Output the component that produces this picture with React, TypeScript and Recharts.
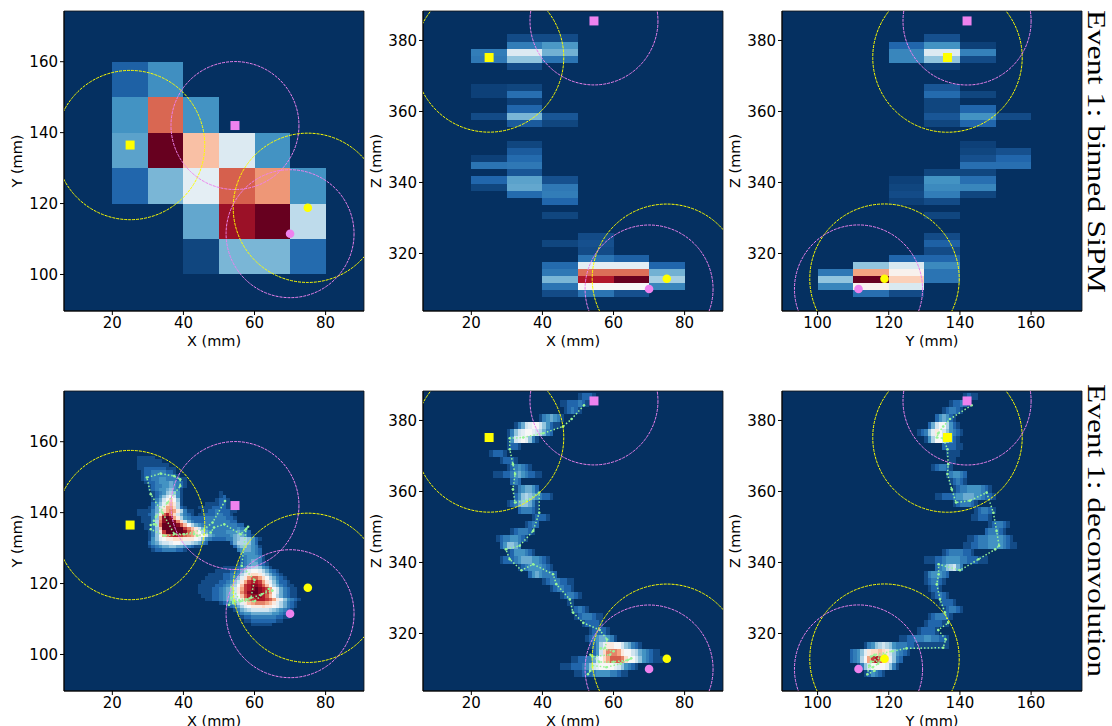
import React from 'react';
import { ScatterChart, Scatter, XAxis, YAxis, ZAxis, ReferenceArea } from 'recharts';

type GridRow = [number, number, string];
type BinRow = [number, number[]];

const xTicks = [20, 40, 60, 80];
const yTicks = [100, 120, 140, 160];
const zTicks = [320, 340, 360, 380];
const xDomain: [number, number] = [6.4, 90.8];
const yDomain: [number, number] = [89.7, 174.3];
const yAsXDomain: [number, number] = [90, 174.3];
const zDomain: [number, number] = [303.8, 388.3];

// true positions of the four markers: yellow square, pink square, yellow dot, pink dot
const markerX = [25, 54.5, 75, 70];
const markerY = [136.5, 142, 118.8, 111.5];
const markerZ = [375.2, 385.5, 312.9, 310];
const markerColor = ['#ffff00', '#ee82ee', '#ffff00', '#ee82ee'];
const markerIsSquare = [true, true, false, false];
const circleRadius = [21, 18, 21, 18];

// binned SiPM, one row per lower bin edge, value per 10 mm bin
const binnedXY: BinRow[] = [
  [150, [0.09, 0.19, 0, 0, 0, 0]],
  [140, [0.2, 0.79, 0.2, 0, 0, 0]],
  [130, [0.23, 1, 0.65, 0.43, 0.2, 0]],
  [120, [0.1, 0.27, 0.45, 0.8, 0.72, 0.2]],
  [110, [0, 0, 0.24, 0.93, 1, 0.37]],
  [100, [0, 0, 0.04, 0.27, 0.27, 0.11]],
];
const binnedXZ: BinRow[] = [
  [379.7, [0, 0.05, 0.05, 0, 0, 0]],
  [377.7, [0, 0.15, 0.21, 0, 0, 0]],
  [375.7, [0.15, 0.43, 0.26, 0, 0, 0]],
  [373.7, [0.14, 0.3, 0.13, 0, 0, 0]],
  [371.7, [0, 0.05, 0, 0, 0, 0]],
  [365.7, [0.03, 0.04, 0, 0, 0, 0]],
  [363.7, [0.03, 0.12, 0, 0, 0, 0]],
  [361.7, [0, 0.03, 0, 0, 0, 0]],
  [359.7, [0, 0.1, 0, 0, 0, 0]],
  [357.7, [0.05, 0.27, 0.07, 0, 0, 0]],
  [355.7, [0, 0.08, 0.04, 0, 0, 0]],
  [349.7, [0, 0.04, 0, 0, 0, 0]],
  [347.7, [0, 0.08, 0, 0, 0, 0]],
  [345.7, [0.03, 0.11, 0, 0, 0, 0]],
  [343.7, [0.13, 0.14, 0, 0, 0, 0]],
  [341.7, [0, 0.07, 0, 0, 0, 0]],
  [339.7, [0.1, 0.23, 0.06, 0, 0, 0]],
  [337.7, [0.04, 0.24, 0.14, 0, 0, 0]],
  [335.7, [0, 0.11, 0.15, 0, 0, 0]],
  [333.7, [0, 0, 0.1, 0, 0, 0]],
  [329.7, [0, 0, 0.04, 0, 0, 0]],
  [323.7, [0, 0, 0, 0.05, 0, 0]],
  [321.7, [0, 0, 0.04, 0.06, 0, 0]],
  [319.7, [0, 0, 0, 0.05, 0, 0]],
  [317.7, [0, 0, 0, 0.13, 0.09, 0]],
  [315.7, [0, 0, 0.11, 0.45, 0.45, 0.1]],
  [313.7, [0, 0, 0.14, 0.78, 0.78, 0.26]],
  [311.7, [0, 0, 0.27, 0.9, 1, 0.33]],
  [309.7, [0, 0, 0.13, 0.5, 0.5, 0.17]],
  [307.7, [0, 0, 0.05, 0.13, 0.06, 0]],
];
const binnedYZ: BinRow[] = [
  [379.7, [0, 0, 0, 0.06, 0, 0]],
  [377.7, [0, 0, 0.1, 0.2, 0.03, 0]],
  [375.7, [0, 0, 0.17, 0.43, 0.16, 0]],
  [373.7, [0, 0, 0.17, 0.3, 0.05, 0]],
  [371.7, [0, 0, 0, 0.03, 0, 0]],
  [365.7, [0, 0, 0, 0.07, 0, 0]],
  [363.7, [0, 0, 0, 0.11, 0.04, 0]],
  [361.7, [0, 0, 0, 0.04, 0, 0]],
  [359.7, [0, 0, 0, 0.04, 0.1, 0]],
  [357.7, [0, 0, 0, 0.07, 0.2, 0.05]],
  [355.7, [0, 0, 0, 0.04, 0.1, 0]],
  [349.7, [0, 0, 0, 0, 0.03, 0]],
  [347.7, [0, 0, 0, 0, 0.04, 0.06]],
  [345.7, [0, 0, 0, 0, 0.06, 0.1]],
  [343.7, [0, 0, 0, 0, 0.12, 0.12]],
  [341.7, [0, 0, 0, 0.04, 0.04, 0]],
  [339.7, [0, 0, 0.03, 0.2, 0.12, 0]],
  [337.7, [0, 0, 0.04, 0.18, 0.17, 0]],
  [335.7, [0, 0, 0.05, 0.15, 0.04, 0]],
  [333.7, [0, 0, 0.03, 0.05, 0, 0]],
  [329.7, [0, 0, 0, 0.04, 0, 0]],
  [323.7, [0, 0, 0, 0.05, 0, 0]],
  [321.7, [0, 0, 0, 0.09, 0, 0]],
  [319.7, [0, 0, 0, 0.05, 0, 0]],
  [317.7, [0, 0, 0.1, 0.1, 0, 0]],
  [315.7, [0, 0.3, 0.42, 0.18, 0, 0]],
  [313.7, [0.14, 0.7, 0.52, 0.13, 0, 0]],
  [311.7, [0.3, 1, 0.62, 0.13, 0, 0]],
  [309.7, [0.17, 0.52, 0.42, 0, 0, 0]],
  [307.7, [0, 0.12, 0.05, 0, 0, 0]],
];

// deconvolved image: [lower edge, first bin, levels]; each char is one 1 mm bin, base 36 in twentieths
const deconvXY: GridRow[] = [
  [155, 27, '11111'],
  [154, 27, '1111111'],
  [153, 27, '111111111'],
  [152, 27, '11222222111'],
  [151, 28, '1223333221'],
  [150, 28, '12233333321'],
  [149, 28, '1223344333211'],
  [148, 29, '122344454321'],
  [147, 30, '12334454321'],
  [146, 30, '1234456431'],
  [145, 31, '123467641'],
  [145, 50, '1'],
  [144, 31, '12468a841'],
  [144, 50, '12'],
  [143, 31, '1358aca61'],
  [143, 49, '1221'],
  [142, 31, '2469cdb71'],
  [142, 46, '1111221'],
  [141, 30, '1258beec721'],
  [141, 44, '111122221'],
  [140, 27, '1111358cefeb7311'],
  [140, 45, '1122322211'],
  [139, 27, '111236bgifc85321'],
  [139, 44, '1122233221'],
  [138, 28, '11136ejkjeb7432222333333221'],
  [137, 28, '11137fjkkjfc85322233333 3322'.replace(' ', '')],
  [136, 29, '1137gkkkkjgda754333333333322'],
  [135, 29, '1136dkkkkkkhfdb85433333333432'],
  [134, 30, '136bhkkkkkjgeca75433334445432'],
  [133, 30, '136aefhiihgfecba85433334565421'],
  [132, 30, '1469abbcccbbba964322223356776421'],
  [131, 30, '2457889aa98876532'],
  [131, 53, '25777642'],
  [130, 30, '123455665543211'],
  [130, 54, '25665431'],
  [129, 31, '1223333221'],
  [129, 55, '3455432'],
  [128, 56, '344432'],
  [127, 56, '2344431'],
  [126, 56, '2345431'],
  [125, 55, '123455321'],
  [124, 51, '11112346776431'],
  [123, 49, '1111223579aa975321'],
  [122, 47, '11112233479bccb975321'],
  [121, 46, '11111223469beggeca75321'],
  [120, 45, '11111223468behiiheb964221'],
  [119, 44, '11111223457adhijjigda753211'],
  [118, 44, '11112234568behijkjihea853211'],
  [117, 44, '11112234568bfhjkkjihea853211'],
  [116, 45, '1112234568adgijjjigda753211'],
  [115, 46, '1122345679beghiiihgeb964321'],
  [114, 50, '1234579bdefffedb975321'],
  [113, 52, '123579abbbcbba975321'],
  [112, 54, '13567888887654321'],
  [111, 55, '234455555544321'],
  [110, 56, '12233333332211'],
  [109, 57, '11222222211'],
  [108, 59, '111111'],
];
const deconvXZ: GridRow[] = [
  [385.7, 50, '12221'],
  [383.7, 45, '11222321'],
  [381.7, 46, '12321'],
  [379.7, 39, '1345431'],
  [377.7, 32, '13589aa864211'],
  [375.7, 30, '13689aa987532'],
  [373.7, 30, '1489a9631'],
  [371.7, 30, '1221'],
  [369.7, 25, '12221'],
  [367.7, 28, '12221'],
  [365.7, 30, '1234321'],
  [363.7, 26, '11122345432211'],
  [361.7, 31, '232'],
  [359.7, 32, '1345542'],
  [357.7, 32, '24676543221'],
  [355.7, 30, '123566531'],
  [353.7, 33, '233321'],
  [351.7, 37, '12221'],
  [349.7, 35, '1232'],
  [347.7, 31, '1233321'],
  [345.7, 27, '123344321'],
  [343.7, 28, '246653'],
  [341.7, 30, '12444321'],
  [339.7, 28, '12223455544321'],
  [337.7, 33, '1234444321'],
  [335.7, 36, '24543332'],
  [333.7, 40, '123332211'],
  [331.7, 42, '1233221'],
  [329.7, 45, '123321'],
  [327.7, 47, '11'],
  [325.7, 48, '12321'],
  [323.7, 49, '12333211'],
  [321.7, 51, '122221'],
  [319.7, 53, '122221'],
  [317.7, 52, '123455431'],
  [315.7, 53, '12479bbaa865321'],
  [313.7, 54, '248cfffebaa87543211'],
  [311.7, 48, '11223358acegggfcaa86432111'],
  [309.7, 45, '11122234689aaaa9864321'],
  [307.7, 49, '112223444433211'],
];
const deconvYZ: GridRow[] = [
  [385.7, 141, '1211'],
  [383.7, 137, '122321'],
  [381.7, 135, '123321'],
  [379.7, 133, '245421'],
  [377.7, 131, '258aa7421'],
  [375.7, 128, '12369ba864321'],
  [373.7, 130, '147aa86421'],
  [371.7, 135, '222211'],
  [369.7, 136, '1111'],
  [367.7, 137, '11'],
  [365.7, 132, '123321'],
  [363.7, 136, '134432'],
  [361.7, 137, '12321'],
  [359.7, 138, '12334444321'],
  [357.7, 133, '11222344555443221'],
  [355.7, 138, '1233321'],
  [353.7, 144, '123321'],
  [351.7, 143, '112221'],
  [349.7, 148, '123321'],
  [347.7, 147, '233321'],
  [345.7, 142, '1123334444321'],
  [343.7, 141, '112233344443211'],
  [341.7, 135, '123333221'],
  [339.7, 130, '111223444433222111'],
  [337.7, 133, '23467853'],
  [335.7, 130, '1344432'],
  [333.7, 130, '123321'],
  [331.7, 131, '1221'],
  [329.7, 132, '12321'],
  [327.7, 134, '12221'],
  [325.7, 135, '123321'],
  [323.7, 131, '1233321'],
  [321.7, 130, '1222211'],
  [319.7, 128, '122221'],
  [317.7, 123, '11223334433221'],
  [315.7, 113, '134678764333221111111111'],
  [313.7, 109, '23469bccdcb864321'],
  [311.7, 109, '2347aehigec9632'],
  [309.7, 111, '1368aaaa9631'],
  [307.7, 113, '124321'],
];

// reconstructed track, same point order on all three projections
const trackX = [51.7, 48.2, 45.8, 40.2, 34.6, 30.8, 30.8, 31.7, 32.3, 31.7, 32.3, 35.5, 39.1, 39.1, 37.4, 33.6, 29.7, 30.8, 34.1, 37.4, 43, 43.9, 47.7, 48.6, 51.5, 56.1, 58.2, 57.6, 56.4, 60, 59, 54, 53.5, 56, 60, 64, 65, 62, 58, 54, 52.8, 53.5];
const trackY = [143.3, 137.2, 135.3, 133.9, 133.5, 135.3, 136.5, 136.7, 136.5, 137.7, 138.9, 142.8, 147.5, 149.4, 150.3, 151, 149.9, 145.2, 140, 134, 134, 133.5, 134.4, 135.8, 136.7, 133.9, 136, 135.3, 125, 121, 116, 115, 119, 115, 115, 118.5, 118, 117, 115.5, 114.5, 114, 116];
const trackZ = [384.3, 380.4, 378.3, 376.4, 375.2, 375, 371.9, 367.7, 364.9, 360.6, 356.9, 357.4, 359.7, 354, 348.9, 344.7, 343.7, 340.9, 337.8, 339.5, 336.7, 333.9, 329.6, 325.9, 323, 321, 318.3, 316, 315.8, 315, 314, 313.5, 314, 312, 312, 312.5, 313, 311.5, 310.5, 311, 308.5, 309.5];

const PLOT = 300;
const Y_AXIS_W = 60;
const X_AXIS_H = 48;
const MARGIN_TOP = 11;
const FONT = '"DejaVu Sans", sans-serif';
const BG = '#053061';
const TRACK = '#98f598';
const RD_BU = ['#053061', '#2166ac', '#4393c3', '#92c5de', '#d1e5f0', '#f7f7f7', '#fddbc7', '#f4a582', '#d6604d', '#b2182b', '#67001f'];

const colorAt = (v: number) => {
  const t = Math.min(0.9999, Math.max(0, v)) * 10;
  const i = Math.floor(t);
  const f = t - i;
  const a = parseInt(RD_BU[i].slice(1), 16);
  const b = parseInt(RD_BU[i + 1].slice(1), 16);
  const mix = (s: number) => Math.round(((a >> s) & 255) * (1 - f) + ((b >> s) & 255) * f);
  return `rgb(${mix(16)},${mix(8)},${mix(0)})`;
};

const binCells = (rows: BinRow[], firstX: number, w: number, h: number) =>
  rows.flatMap(([lo, vals]) =>
    vals.flatMap((v, i) => (v > 0 ? [{ x: firstX + i * w + w / 2, y: lo + h / 2, v }] : [])),
  );

const gridCells = (rows: GridRow[], h: number) =>
  rows.flatMap(([lo, first, levels]) =>
    levels.split('').map((c, i) => ({ x: first + i + 0.5, y: lo + h / 2, v: parseInt(c, 36) / 20 })),
  );

const zip = (a: number[], b: number[]) => a.map((x, i) => ({ x, y: b[i] }));

const squareMark = (p: any) => <rect x={p.cx - 4.5} y={p.cy - 4.5} width={9} height={9} fill={p.fill} />;
const dotMark = (p: any) => <circle cx={p.cx} cy={p.cy} r={4.3} fill={p.fill} />;

interface PanelProps {
  left: number;
  top: number;
  xd: [number, number];
  yd: [number, number];
  xt: number[];
  yt: number[];
  xLabel: string;
  yLabel: string;
  cells: { x: number; y: number; v: number }[];
  cellW: number;
  cellH: number;
  xs: number[];
  ys: number[];
  tx?: number[];
  ty?: number[];
}

const Panel = ({ left, top, xd, yd, xt, yt, xLabel, yLabel, cells, cellW, cellH, xs, ys, tx, ty }: PanelProps) => {
  const pxX = PLOT / (xd[1] - xd[0]);
  const pxY = PLOT / (yd[1] - yd[0]);
  const tick = { fontSize: 15, fontFamily: FONT, fill: '#000' };
  const labelStyle = { fontSize: 14.5, fontFamily: FONT, fill: '#000', textAnchor: 'middle' as const };

  const cellShape = (p: any) => {
    const w = cellW * pxX;
    const h = cellH * pxY;
    return <rect x={p.cx - w / 2} y={p.cy - h / 2} width={w} height={h} fill={colorAt(p.payload.v)} shapeRendering="crispEdges" />;
  };
  const ringShape = (p: any) => (
    <circle cx={p.cx} cy={p.cy} r={p.payload.r * pxX} fill="none" stroke={p.payload.c} strokeWidth={1} strokeDasharray="3 1" />
  );
  const knotShape = (p: any) => <circle cx={p.cx} cy={p.cy} r={1.3} fill={TRACK} />;

  return (
    <div style={{ position: 'absolute', left: left - Y_AXIS_W, top: top - MARGIN_TOP }}>
      <ScatterChart
        width={Y_AXIS_W + PLOT + 12}
        height={MARGIN_TOP + PLOT + X_AXIS_H}
        margin={{ top: MARGIN_TOP, right: 12, left: 0, bottom: 0 }}
      >
        <XAxis
          type="number"
          dataKey="x"
          domain={xd}
          ticks={xt}
          interval={0}
          allowDataOverflow
          height={X_AXIS_H}
          tick={tick}
          tickSize={4}
          stroke="#000"
          label={{ value: xLabel, position: 'insideBottom', offset: 13, style: labelStyle }}
        />
        <YAxis
          type="number"
          dataKey="y"
          domain={yd}
          ticks={yt}
          interval={0}
          allowDataOverflow
          width={Y_AXIS_W}
          tick={tick}
          tickSize={4}
          stroke="#000"
          label={{ value: yLabel, angle: -90, position: 'insideLeft', offset: 13, style: labelStyle }}
        />
        <ZAxis range={[64, 64]} />
        <ReferenceArea x1={xd[0]} x2={xd[1]} y1={yd[0]} y2={yd[1]} fill={BG} fillOpacity={1} stroke="#111" strokeWidth={0.8} />
        <Scatter data={cells} shape={cellShape} isAnimationActive={false} />
        {tx && ty && (
          <Scatter
            data={zip(tx, ty)}
            shape={knotShape}
            line={{ stroke: TRACK, strokeWidth: 1.5, strokeDasharray: '1.5 2' }}
            lineType="joint"
            isAnimationActive={false}
          />
        )}
        <Scatter
          data={xs.map((x, i) => ({ x, y: ys[i], r: circleRadius[i], c: markerColor[i] }))}
          shape={ringShape}
          isAnimationActive={false}
        />
        {xs.map((x, i) => (
          <Scatter
            key={i}
            data={[{ x, y: ys[i] }]}
            shape={markerIsSquare[i] ? squareMark : dotMark}
            fill={markerColor[i]}
            isAnimationActive={false}
          />
        ))}
      </ScatterChart>
    </div>
  );
};

const SideTitle = ({ y, text, length }: { y: number; text: string; length: number }) => (
  <text
    transform={`translate(1088,${y}) rotate(90)`}
    textLength={length}
    lengthAdjust="spacingAndGlyphs"
    fontFamily='"Liberation Serif", serif'
    fontSize={25}
    fill="#000"
  >
    {text}
  </text>
);

export default function App() {
  const left = [64, 423, 782];
  const top = [11, 391];
  return (
    <div style={{ position: 'absolute', left: 0, top: 0, width: 1112, height: 726, overflow: 'hidden', background: '#fff' }}>
      <Panel left={left[0]} top={top[0]} xd={xDomain} yd={yDomain} xt={xTicks} yt={yTicks} xLabel="X (mm)" yLabel="Y (mm)"
        cells={binCells(binnedXY, 20, 10, 10)} cellW={10} cellH={10} xs={markerX} ys={markerY} />
      <Panel left={left[1]} top={top[0]} xd={xDomain} yd={zDomain} xt={xTicks} yt={zTicks} xLabel="X (mm)" yLabel="Z (mm)"
        cells={binCells(binnedXZ, 20, 10, 2)} cellW={10} cellH={2} xs={markerX} ys={markerZ} />
      <Panel left={left[2]} top={top[0]} xd={yAsXDomain} yd={zDomain} xt={yTicks} yt={zTicks} xLabel="Y (mm)" yLabel="Z (mm)"
        cells={binCells(binnedYZ, 100, 10, 2)} cellW={10} cellH={2} xs={markerY} ys={markerZ} />
      <Panel left={left[0]} top={top[1]} xd={xDomain} yd={yDomain} xt={xTicks} yt={yTicks} xLabel="X (mm)" yLabel="Y (mm)"
        cells={gridCells(deconvXY, 1)} cellW={1} cellH={1} xs={markerX} ys={markerY} tx={trackX} ty={trackY} />
      <Panel left={left[1]} top={top[1]} xd={xDomain} yd={zDomain} xt={xTicks} yt={zTicks} xLabel="X (mm)" yLabel="Z (mm)"
        cells={gridCells(deconvXZ, 2)} cellW={1} cellH={2} xs={markerX} ys={markerZ} tx={trackX} ty={trackZ} />
      <Panel left={left[2]} top={top[1]} xd={yAsXDomain} yd={zDomain} xt={yTicks} yt={zTicks} xLabel="Y (mm)" yLabel="Z (mm)"
        cells={gridCells(deconvYZ, 2)} cellW={1} cellH={2} xs={markerY} ys={markerZ} tx={trackY} ty={trackZ} />
      <svg width={1112} height={726} style={{ position: 'absolute', left: 0, top: 0, pointerEvents: 'none' }}>
        <SideTitle y={10} text="Event 1: binned SiPM" length={283} />
        <SideTitle y={384} text="Event 1: deconvolution" length={293} />
      </svg>
    </div>
  );
}
